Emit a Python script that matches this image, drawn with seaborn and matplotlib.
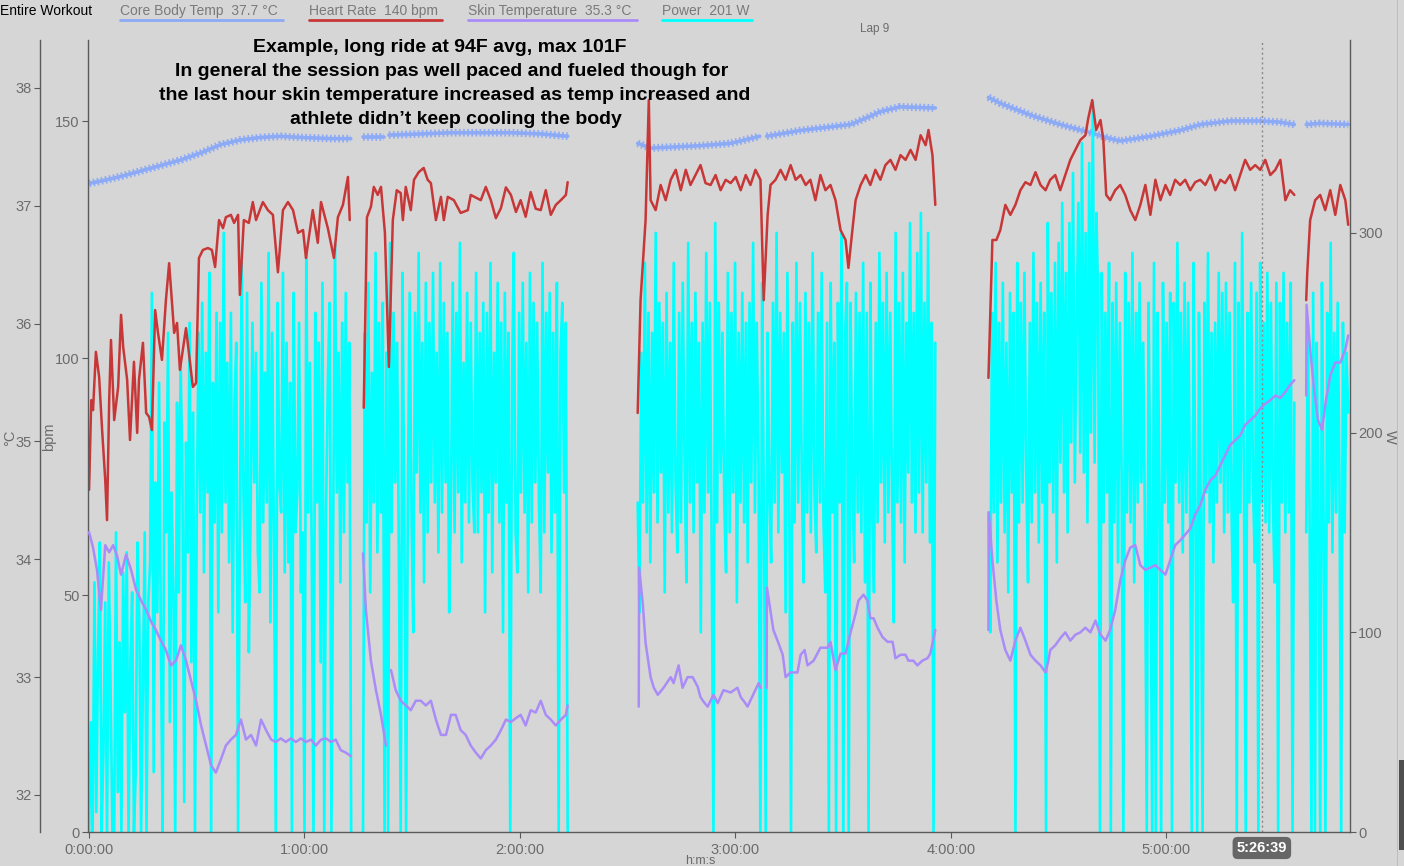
import numpy as np
import pandas as pd
import matplotlib
matplotlib.use("Agg")
import matplotlib.pyplot as plt
import seaborn as sns
from matplotlib.ticker import FuncFormatter, FixedLocator
from matplotlib.lines import Line2D
from matplotlib.patches import Rectangle

# ---------------- data (time in minutes) ----------------
core_min = [0.0, 3.3, 8.9, 17.3, 25.6, 31.2, 36.7, 42.3, 47.9, 53.4, 59.0, 67.4, 72.9,
            76.3, 82.1,
            83.5, 92.4, 100.8, 109.1, 117.5, 125.8, 133.3,
            152.8, 156.4, 170.3, 178.7, 186.8,
            188.7, 198.2, 212.1, 217.6, 220.4, 225.9, 235.7,
            250.5, 253.8, 262.2, 270.5, 278.9, 284.4, 287.2, 295.6, 303.9, 309.5, 317.8, 326.2, 331.8, 335.7,
            339.0, 342.9, 350.7]
core_c = [37.19, 37.21, 37.25, 37.32, 37.39, 37.45, 37.52, 37.56, 37.58, 37.59, 37.58, 37.57, 37.57,
          37.58, 37.58,
          37.60, 37.61, 37.62, 37.62, 37.62, 37.61, 37.59,
          37.53, 37.49, 37.51, 37.53, 37.59,
          37.59, 37.64, 37.69, 37.76, 37.80, 37.84, 37.83,
          37.92, 37.87, 37.77, 37.69, 37.62, 37.57, 37.55, 37.59, 37.64, 37.69, 37.72, 37.72, 37.71, 37.69,
          37.69, 37.70, 37.69]
core_breaks = [74.5, 82.8, 140.0, 187.7, 243.0, 337.5]

hr_min = [0.0, 0.6, 1.1, 1.9, 2.8, 3.6, 4.5, 5.0, 5.6, 6.1, 7.0, 8.1, 8.9, 9.5, 10.6, 11.4, 12.5, 13.4,
          13.9, 15.0, 15.9, 16.7, 17.5, 18.4, 19.2, 20.3, 21.4, 22.3, 23.7, 24.5, 25.3, 27.0, 27.8, 28.9,
          29.8, 30.6, 31.7, 33.1, 34.2, 35.1, 36.2, 37.3, 38.1, 39.5, 40.4, 41.5, 42.0, 43.1, 44.5, 45.6,
          46.5, 48.4, 49.8, 51.2, 52.6, 54.0, 55.4, 56.8, 58.2, 59.6, 60.4, 62.3, 63.7, 64.6, 66.5, 68.2,
          69.3, 70.7, 72.1, 72.6,
          76.5, 77.4, 78.5, 79.3, 80.4, 81.3, 82.4, 83.5, 84.6, 85.7, 86.8, 87.4, 88.2, 89.6, 90.5, 91.8,
          93.2, 94.3, 95.2, 96.6, 98.0, 98.8, 99.9, 101.6, 103.5, 105.5, 106.3, 109.1, 110.5, 111.9,
          113.3, 114.7, 116.1, 117.5, 118.9, 120.2, 121.6, 123.0, 124.4, 125.8, 127.2, 128.6, 130.0,
          131.4, 132.8, 133.3,
          152.8, 153.6, 155.0, 155.9, 156.4, 157.8, 159.2, 160.6, 162.0, 163.4, 164.8, 166.2, 167.5,
          168.9, 170.3, 171.7, 173.1, 174.5, 175.9, 177.3, 178.7, 180.1, 181.5, 182.9, 184.2, 185.6,
          187.0, 187.9, 189.0, 189.8, 191.2, 192.6, 194.0, 195.4, 196.8, 198.2, 199.6, 200.9, 202.3,
          203.7, 205.1, 206.5, 207.9, 209.3, 210.7, 211.5, 212.6, 213.5, 214.9, 216.3, 217.6, 219.0,
          220.4, 221.8, 223.2, 224.6, 226.0, 227.4, 228.8, 230.2, 231.6, 233.0, 233.8, 234.9, 235.7,
          250.5, 251.6, 252.7, 253.8, 255.2, 256.6, 258.0, 259.4, 260.8, 262.2, 263.6, 265.0, 266.4,
          267.7, 269.1, 270.5, 271.9, 273.3, 274.7, 276.1, 277.5, 278.3, 279.4, 280.5, 281.7, 282.5,
          283.3, 284.4, 285.8, 287.2, 288.6, 290.0, 291.4, 292.8, 294.2, 295.6, 297.0, 298.4, 299.8,
          301.1, 302.5, 303.9, 305.3, 306.7, 308.1, 309.5, 310.9, 312.3, 313.7, 315.1, 316.4, 317.8,
          319.2, 320.6, 322.0, 323.4, 324.8, 326.2, 327.6, 329.0, 330.4, 331.8, 333.2, 334.5, 335.7,
          339.0, 339.3, 340.1, 341.5, 342.9, 344.3, 345.7, 347.1, 348.5, 349.9, 350.7]
hr_bpm = [72.2, 91.1, 89.0, 101.3, 96.0, 85.2, 74.3, 65.8, 91.1, 103.8, 86.9, 93.9, 109.1, 102.3, 95.4,
          82.7, 99.2, 84.2, 95.4, 103.2, 88.4, 87.6, 84.8, 110.1, 105.3, 99.6, 112.2, 120.0, 105.3, 107.4,
          97.5, 106.3, 101.1, 93.9, 94.7, 121.1, 122.8, 123.2, 122.8, 119.2, 129.1, 127.4, 129.7, 130.2,
          128.5, 130.2, 113.3, 129.1, 128.5, 132.9, 129.1, 132.9, 131.2, 130.2, 118.1, 131.2, 132.9,
          131.2, 126.4, 127.0, 121.1, 131.2, 124.3, 132.9, 127.4, 121.1, 129.7, 132.3, 138.2, 129.1,
          89.5, 129.7, 131.9, 136.1, 134.4, 136.1, 126.4, 98.1, 129.1, 135.4, 134.8, 129.1, 136.1, 131.2,
          137.6, 139.2, 140.1, 137.6, 136.9, 129.1, 134.0, 129.1, 134.0, 133.3, 130.6, 131.2, 134.4,
          133.3, 136.1, 133.3, 129.5, 131.6, 136.0, 134.4, 130.8, 133.3, 129.8, 135.0, 131.5, 131.2,
          135.4, 130.2, 132.3, 133.3, 134.4, 137.1,
          88.4, 112.2, 129.1, 154.4, 133.3, 131.2, 136.5, 133.3, 137.6, 139.7, 135.4, 139.7, 136.5,
          138.6, 140.7, 136.9, 136.5, 138.6, 135.4, 137.6, 136.9, 138.2, 135.4, 138.6, 136.5, 139.7,
          137.6, 112.2, 130.2, 136.5, 137.6, 139.7, 137.6, 140.7, 137.6, 138.6, 136.5, 137.6, 133.3,
          138.6, 135.4, 136.5, 133.3, 127.0, 124.9, 119.0, 127.0, 133.3, 136.5, 138.6, 136.5, 139.7,
          137.6, 140.7, 141.8, 139.7, 142.8, 141.8, 143.9, 141.8, 147.0, 144.9, 148.1, 142.8, 132.3,
          95.8, 124.9, 124.9, 127.0, 132.3, 130.2, 132.3, 135.4, 137.1, 136.5, 139.2, 136.5, 135.4,
          137.6, 138.6, 135.4, 138.6, 141.8, 143.9, 146.0, 147.0, 150.6, 154.4, 148.1, 150.2, 146.0,
          134.4, 133.3, 135.4, 136.5, 134.4, 131.2, 129.1, 132.3, 136.5, 130.2, 137.6, 133.3, 136.5,
          134.4, 137.6, 136.5, 137.6, 135.4, 137.1, 137.6, 136.5, 138.6, 135.4, 137.6, 136.9, 138.6,
          135.4, 138.6, 141.8, 139.7, 140.7, 139.7, 141.8, 138.6, 139.7, 141.8, 133.3, 135.4, 134.4,
          112.2, 118.0, 129.1, 133.3, 134.4, 131.2, 135.4, 130.2, 136.5, 133.3, 128.1]
hr_breaks = [74.5, 140.0, 243.0, 337.5]

skin_min = [0.0, 1.1, 2.2, 3.3, 4.5, 5.6, 6.7, 7.8, 8.9, 10.3, 11.7, 13.1, 14.5, 15.9, 17.3, 18.6, 20.0,
            21.4, 22.8, 24.2, 25.6, 27.0, 28.4, 29.8, 31.2, 32.6, 34.0, 35.3, 36.7, 38.1, 39.5, 40.9,
            42.3, 43.7, 45.1, 46.5, 47.9, 49.3, 50.7, 52.0, 53.4, 54.8, 56.2, 57.6, 59.0, 60.4, 61.8,
            63.2, 64.6, 66.0, 67.4, 68.7, 70.1, 71.5, 72.9,
            76.3, 77.1, 78.5, 79.9, 81.3, 82.7,
            84.1, 85.4, 86.8, 88.2, 89.6, 91.0, 92.4, 93.8, 95.2, 96.6, 98.0, 99.4, 100.8, 102.1, 103.5,
            104.9, 106.3, 107.7, 109.1, 110.5, 111.9, 113.3, 114.7, 116.1, 117.5, 118.8, 120.2, 121.6,
            123.0, 124.4, 125.8, 127.2, 128.6, 130.0, 131.4, 132.8, 133.3,
            153.1, 153.2, 154.2, 155.0, 156.4, 157.3, 158.4, 160.0, 162.0, 162.8, 164.2, 165.3, 166.7,
            168.1, 169.5, 170.3, 171.2, 172.3, 173.9, 175.1, 176.7, 178.7, 180.6, 181.5, 182.3, 183.4,
            185.1, 186.5, 187.0,
            188.7, 188.8, 190.6, 192.0, 193.2, 194.0, 195.4, 197.3, 198.2, 199.3, 200.1, 201.8, 203.7,
            205.7, 206.5, 207.9, 209.3, 210.7, 212.1, 213.5, 214.3, 215.7, 216.8, 217.6, 218.5, 219.6,
            221.0, 222.4, 223.8, 224.6, 226.0, 227.4, 228.2, 229.6, 230.7, 232.1, 233.5, 234.3, 235.7,
            250.5, 250.6, 251.6, 252.7, 253.8, 255.2, 256.6, 258.0, 259.4, 260.8, 262.2, 263.6, 265.0,
            266.4, 267.2, 267.7, 269.1, 270.5, 271.9, 273.3, 274.7, 276.1, 277.5, 278.9, 280.3, 281.7,
            283.1, 284.4, 285.8, 287.2, 288.6, 290.0, 291.4, 292.8, 294.2, 295.6, 297.0, 298.4, 299.8,
            301.1, 302.5, 303.9, 305.3, 306.7, 308.1, 309.5, 310.9, 312.3, 313.7, 315.1, 316.4, 317.8,
            319.2, 320.6, 322.0, 323.4, 324.8, 326.2, 327.6, 329.0, 330.4, 331.8, 333.2, 334.5, 335.7,
            339.0, 339.1, 340.1, 341.2, 342.3, 343.4, 344.5, 345.7, 347.1, 348.5, 349.9, 350.7]
skin_c = [34.23, 34.10, 33.91, 33.57, 34.12, 34.06, 34.12, 34.03, 33.87, 34.04, 33.91, 33.74, 33.65,
          33.57, 33.47, 33.40, 33.31, 33.23, 33.10, 33.14, 33.27, 33.14, 32.97, 32.80, 32.59, 32.42,
          32.25, 32.19, 32.30, 32.42, 32.47, 32.51, 32.64, 32.47, 32.51, 32.42, 32.64, 32.55, 32.47,
          32.45, 32.48, 32.45, 32.48, 32.45, 32.48, 32.45, 32.47, 32.42, 32.47, 32.48, 32.45, 32.47,
          32.38, 32.36, 32.33,
          34.05, 33.57, 33.14, 32.89, 32.68, 32.42,
          33.06, 32.89, 32.80, 32.76, 32.72, 32.80, 32.80, 32.76, 32.80, 32.64, 32.51, 32.51, 32.68,
          32.68, 32.55, 32.51, 32.42, 32.36, 32.31, 32.38, 32.42, 32.47, 32.55, 32.64, 32.62, 32.65,
          32.68, 32.59, 32.72, 32.70, 32.80, 32.68, 32.64, 32.59, 32.64, 32.68, 32.76,
          32.75, 33.93, 33.63, 33.29, 33.00, 32.91, 32.85, 32.91, 33.00, 32.95, 33.10, 32.91, 33.00,
          33.00, 32.92, 32.83, 32.79, 32.75, 32.85, 32.78, 32.89, 32.87, 32.91, 32.83, 32.80, 32.75,
          32.86, 32.95, 32.91,
          32.91, 33.76, 33.40, 33.29, 33.19, 33.00, 33.04, 33.04, 33.19, 33.23, 33.10, 33.14, 33.25,
          33.25, 33.30, 33.06, 33.20, 33.20, 33.38, 33.54, 33.65, 33.70, 33.65, 33.50, 33.50, 33.42,
          33.34, 33.30, 33.30, 33.16, 33.19, 33.19, 33.14, 33.14, 33.10, 33.14, 33.16, 33.20, 33.40,
          33.40, 34.40, 33.99, 33.65, 33.40, 33.23, 33.14, 33.31, 33.42, 33.31, 33.19, 33.14, 33.10,
          33.04, 33.14, 33.23, 33.27, 33.33, 33.38, 33.31, 33.36, 33.38, 33.42, 33.38, 33.48, 33.36,
          33.31, 33.40, 33.57, 33.82, 33.99, 34.10, 34.12, 33.95, 33.91, 33.93, 33.95, 33.91, 33.87,
          33.99, 34.12, 34.16, 34.21, 34.26, 34.38, 34.46, 34.59, 34.67, 34.71, 34.80, 34.88, 34.97,
          35.01, 35.05, 35.14, 35.18, 35.22, 35.28, 35.32, 35.35, 35.39, 35.37, 35.42, 35.48, 35.52,
          35.39, 36.16, 35.78, 35.44, 35.18, 35.10, 35.35, 35.56, 35.67, 35.67, 35.78, 35.90]
skin_breaks = [74.5, 83.4, 140.0, 187.9, 243.0, 337.5]

power_start = [0.0, 76.3, 152.8, 250.5, 339.0]
power_end = [73.0, 133.3, 235.7, 335.7, 350.7]
power_a = [0, 55, 0, 125, 10, 90, 145, 0, 40, 115, 0, 135, 70, 0, 0, 150, 20, 95, 0, 130, 60, 140, 0,
           85, 120, 0, 30, 145, 105, 0, 75, 150, 0, 115, 135,
           270, 30, 175, 110, 225, 95, 0, 205, 150, 250, 55, 170, 120, 0, 215, 120, 235, 180, 15, 195,
           140, 255, 85, 210, 0, 160,
           250, 160, 265, 130, 240, 170, 280, 0, 225, 155, 260, 110, 255, 150, 300, 165, 235, 135, 260,
           100, 215, 245, 0, 150, 285, 170, 115, 270, 90, 160, 255, 175, 240, 140, 120, 275, 155, 230,
           165, 290, 105, 250, 145, 0, 265, 175, 160, 280, 130, 245, 135, 225, 0, 270, 150, 170, 255,
           120, 150, 0, 290, 160, 235, 145, 0, 260, 165, 245, 85, 275, 0, 160, 225, 265, 0, 155, 295,
           170, 240, 125, 255, 150, 270, 175, 245, 0]
power_b = [0, 250, 155, 275, 120, 230, 165, 290, 140, 255, 160, 265, 0, 240, 0, 295, 150, 260, 175, 245,
           135, 0, 280, 155, 0, 170, 270, 160, 100, 260, 180, 290, 160, 245, 125, 275, 150, 255, 175,
           280, 165, 240, 140, 285, 160, 265, 175, 250, 110, 165, 275, 150, 260, 170, 295, 135, 235, 165,
           270, 155, 255, 175, 150, 280, 150, 250, 170, 265, 110, 260, 160, 285, 130, 240, 175, 275, 155,
           255, 100, 270, 165, 250, 0, 225, 290, 150, 130, 260, 170, 275, 160, 245, 120, 280, 155, 265,
           175, 255, 165, 120, 285, 150, 260, 180, 270, 140, 250, 160, 275, 0, 240, 265, 170, 255, 0]
power_c = [165, 110, 240, 165, 285, 150, 260, 135, 250, 170, 300, 155, 265, 180, 255, 120, 270, 160, 245,
           150, 285, 175, 140, 260, 155, 275, 185, 125, 295, 165, 255, 150, 270, 175, 245, 100, 255, 160,
           290, 170, 265, 145, 0, 305, 155, 265, 180, 250, 165, 130, 280, 150, 260, 170, 285, 115, 250,
           165, 270, 155, 255, 135, 265, 175, 295, 160, 255, 185, 0, 275, 155, 0, 250, 170, 135, 265, 165,
           300, 150, 260, 180, 250, 110, 280, 170, 0, 255, 155, 285, 165, 265, 175, 125, 270, 160, 255,
           150, 290, 170, 140, 260, 165, 280, 155, 120, 255, 0, 275, 160, 245, 0, 265, 165, 300, 0, 250,
           275, 0, 265, 175, 135, 270, 160, 260, 150, 285, 125, 260, 0, 275, 160, 120, 255, 155, 290, 175,
           265, 145, 280, 160, 260, 170, 105, 300, 165, 265, 155, 280, 135, 255, 180, 305, 165, 260, 150,
           290, 170, 310, 150, 265, 175, 300, 145, 255, 0, 245]
power_d = [160, 100, 260, 160, 285, 135, 255, 165, 275, 150, 245, 120, 270, 170, 260, 0, 285, 155, 265,
           165, 280, 180, 125, 255, 155, 290, 170, 265, 145, 275, 165, 260, 0, 305, 175, 270, 160, 285,
           135, 295, 185, 315, 170, 280, 150, 305, 195, 330, 175, 255, 315, 190, 345, 180, 300, 155, 335,
           200, 366, 185, 310, 265, 0, 280, 155, 260, 170, 285, 0, 265, 155, 275, 135, 255, 180, 0, 280,
           160, 265, 155, 290, 125, 260, 165, 275, 175, 245, 150, 0, 265, 160, 0, 285, 0, 260, 175, 0,
           275, 165, 255, 155, 270, 0, 265, 175, 295, 165, 260, 140, 275, 160, 265, 170, 0, 285, 165, 0,
           260, 160, 0, 265, 170, 290, 155, 250, 135, 255, 165, 280, 175, 270, 150, 275, 160, 260, 165,
           115, 285, 0, 265, 160, 300, 170, 0, 260, 165, 275, 175, 135, 270, 0, 285, 165, 255, 155, 280,
           150, 265, 170, 125, 275, 0, 265, 165, 280, 150, 255, 160, 275, 0, 215]
power_e = [150, 255, 150, 0, 270, 0, 245, 160, 0, 275, 150, 0, 260, 155, 295, 140, 250, 160, 265, 175, 0,
           255, 150, 240, 210]

x_ticks_min = [0, 60, 120, 180, 240, 300]
c_ticks = [32, 33, 34, 35, 36, 37, 38]
bpm_ticks = [0, 50, 100, 150]
w_ticks = [0, 100, 200, 300]
cursor_min = 326.65
cursor_label = "5:26:39"
title_lines = ["Example, long ride at 94F avg, max 101F",
               "In general the session pas well paced and fueled though for",
               "the last hour skin temperature increased as temp increased and",
               "athlete didn\u2019t keep cooling the body"]
legend_items = ["Core Body Temp  37.7 \u00b0C", "Heart Rate  140 bpm",
                "Skin Temperature  35.3 \u00b0C", "Power  201 W"]

# ---------------- styling ----------------
BG = "#d6d6d6"
C_CORE = "#8caaf6"
C_HR = "#c83737"
C_SKIN = "#aa8cf8"
C_POW = "#00ffff"
TXT = "#6b6b6b"
SPINE = "#5a5a5a"

sns.set_theme(style="white", rc={"axes.facecolor": BG, "figure.facecolor": BG})
plt.rcParams["font.family"] = ["Liberation Sans", "DejaVu Sans"]

W_PX, H_PX = 1404, 866
fig = plt.figure(figsize=(W_PX / 100, H_PX / 100), dpi=100)
pos = [88 / W_PX, 1 - 832 / H_PX, (1350 - 88) / W_PX, (832 - 40) / H_PX]

ax_core = fig.add_axes(pos)
ax_w = fig.add_axes(pos, sharex=ax_core)
ax_hr = fig.add_axes(pos, sharex=ax_core)
ax_skin = fig.add_axes(pos, sharex=ax_core)
for i, a in enumerate([ax_core, ax_w, ax_hr, ax_skin]):
    a.set_zorder(i + 1)
    if i > 0:
        a.patch.set_visible(False)
    for s in a.spines.values():
        s.set_visible(False)


def seg_df(t, v, breaks):
    t = np.asarray(t, float)
    return pd.DataFrame({"t": t, "v": np.asarray(v, float), "seg": np.digitize(t, breaks)})


core_df = seg_df(core_min, core_c, core_breaks)
hr_df = seg_df(hr_min, hr_bpm, hr_breaks)
skin_df = seg_df(skin_min, skin_c, skin_breaks)
pw_parts = []
for k, vals in enumerate([power_a, power_b, power_c, power_d, power_e]):
    pw_parts.append(pd.DataFrame({"t": np.linspace(power_start[k], power_end[k], len(vals)),
                                  "v": np.asarray(vals, float), "seg": k}))
pw_df = pd.concat(pw_parts, ignore_index=True)

# core temperature: solid line plus a fine dashed overlay for the textured band
sns.lineplot(data=core_df, x="t", y="v", units="seg", estimator=None, color=C_CORE,
             lw=2.6, ax=ax_core, legend=False)
sns.lineplot(data=core_df, x="t", y="v", units="seg", estimator=None, color=C_CORE,
             lw=5.5, ls=(0, (0.22, 0.32)), ax=ax_core, legend=False)
sns.lineplot(data=pw_df, x="t", y="v", units="seg", estimator=None, color=C_POW,
             lw=1.9, ax=ax_w, legend=False)
sns.lineplot(data=hr_df, x="t", y="v", units="seg", estimator=None, color=C_HR,
             lw=1.8, ax=ax_hr, legend=False)
sns.lineplot(data=skin_df, x="t", y="v", units="seg", estimator=None, color=C_SKIN,
             lw=1.8, ax=ax_skin, legend=False)

for a in [ax_core, ax_w, ax_hr, ax_skin]:
    a.set_xlabel("")
    a.set_ylabel("")
    a.set_xlim(-0.3, 351.2)

ax_core.set_ylim(31.686, 38.407)
ax_skin.set_ylim(31.686, 38.407)
ax_hr.set_ylim(0, 167.09)
ax_w.set_ylim(0, 396.6)


def hms(m, pos=None):
    s = int(round(m * 60))
    return f"{s // 3600}:{(s % 3600) // 60:02d}:{s % 60:02d}"


tick_kw = dict(labelsize=10.5, labelcolor=TXT, color=SPINE, length=4, width=0.8)

# bpm axis (left, at plot edge) + time axis
ax_hr.spines["left"].set_visible(True)
ax_hr.spines["bottom"].set_visible(True)
for s in ["left", "bottom"]:
    ax_hr.spines[s].set_color(SPINE)
    ax_hr.spines[s].set_linewidth(1.0)
ax_hr.yaxis.set_major_locator(FixedLocator(bpm_ticks))
ax_hr.xaxis.set_major_locator(FixedLocator(x_ticks_min))
ax_hr.xaxis.set_major_formatter(FuncFormatter(hms))
ax_hr.tick_params(axis="y", left=True, labelleft=True, pad=2, **tick_kw)
ax_hr.tick_params(axis="x", bottom=True, labelbottom=True, pad=4, **tick_kw)

# degC axis (offset left)
ax_core.spines["left"].set_visible(True)
ax_core.spines["left"].set_position(("axes", -48 / 1262))
ax_core.spines["left"].set_color(SPINE)
ax_core.spines["left"].set_linewidth(1.0)
ax_core.yaxis.set_major_locator(FixedLocator(c_ticks))
ax_core.yaxis.set_major_formatter(FuncFormatter(lambda v, p: f"{v:.0f}"))
ax_core.tick_params(axis="y", left=True, labelleft=True, pad=2, **tick_kw)
ax_core.tick_params(axis="x", bottom=False, labelbottom=False)

# W axis (right)
ax_w.spines["right"].set_visible(True)
ax_w.spines["right"].set_color(SPINE)
ax_w.spines["right"].set_linewidth(1.0)
ax_w.yaxis.set_major_locator(FixedLocator(w_ticks))
ax_w.yaxis.tick_right()
ax_w.tick_params(axis="y", right=True, labelright=True, left=False, labelleft=False, pad=2, **tick_kw)
ax_w.tick_params(axis="x", bottom=False, labelbottom=False)

ax_skin.tick_params(axis="both", left=False, bottom=False, labelleft=False, labelbottom=False)

# cursor
ax_hr.axvline(cursor_min, color="#8a8a8a", lw=1.0, ls=(0, (1.5, 2)))
ax_hr.annotate(cursor_label, xy=(cursor_min, 0), xycoords=("data", "axes fraction"),
               xytext=(0, -16), textcoords="offset pixels", ha="center", va="center",
               fontsize=10.5, fontweight="bold", color="white",
               bbox=dict(boxstyle="round,pad=0.28,rounding_size=0.35", fc="#666666", ec="none"))

# axis labels
fig.text(10 / W_PX, 1 - 438 / H_PX, "\u00b0C", rotation=90, ha="center", va="center", color=TXT, fontsize=10.5)
fig.text(49 / W_PX, 1 - 437 / H_PX, "bpm", rotation=90, ha="center", va="center", color=TXT, fontsize=10.5)
fig.text(1390 / W_PX, 1 - 437 / H_PX, "W", rotation=270, ha="center", va="center", color=TXT, fontsize=10.5)
fig.text(700 / W_PX, 1 - 861 / H_PX, "h:m:s", ha="center", va="center", color=TXT, fontsize=9)
fig.text(875 / W_PX, 1 - 29 / H_PX, "Lap 9", ha="center", va="center", color=TXT, fontsize=8.5)

# annotation title
title_cx = [440, 452, 455, 456]
for i, line in enumerate(title_lines):
    fig.text(title_cx[i] / W_PX, 1 - (47 + 24 * i) / H_PX, line, ha="center", va="center",
             fontsize=14, fontweight="bold", color="black")

# header legend
fig.text(0, 1 - 11 / H_PX, "Entire Workout", ha="left", va="center", fontsize=10, color="black")
leg_x = [(120, 283), (309, 442), (468, 637), (662, 752)]
leg_c = [C_CORE, C_HR, C_SKIN, C_POW]
for (x0, x1), lab, col in zip(leg_x, legend_items, leg_c):
    fig.text(x0 / W_PX, 1 - 11 / H_PX, lab, ha="left", va="center", fontsize=10, color="#7a7a7a")
    fig.add_artist(Line2D([x0 / W_PX, x1 / W_PX], [1 - 19.5 / H_PX] * 2, transform=fig.transFigure,
                          color=col, lw=2))

# scrollbar remnants at right edge
fig.add_artist(Rectangle((1397 / W_PX, 0), 1 / W_PX, 1, transform=fig.transFigure, color="#bdbdbd", lw=0))
fig.add_artist(Rectangle((1399 / W_PX, 1 - 850 / H_PX), 5 / W_PX, 90 / H_PX, transform=fig.transFigure,
                         color="#4f4f4f", lw=0))

fig.savefig("out.png", dpi=100, facecolor=BG)
